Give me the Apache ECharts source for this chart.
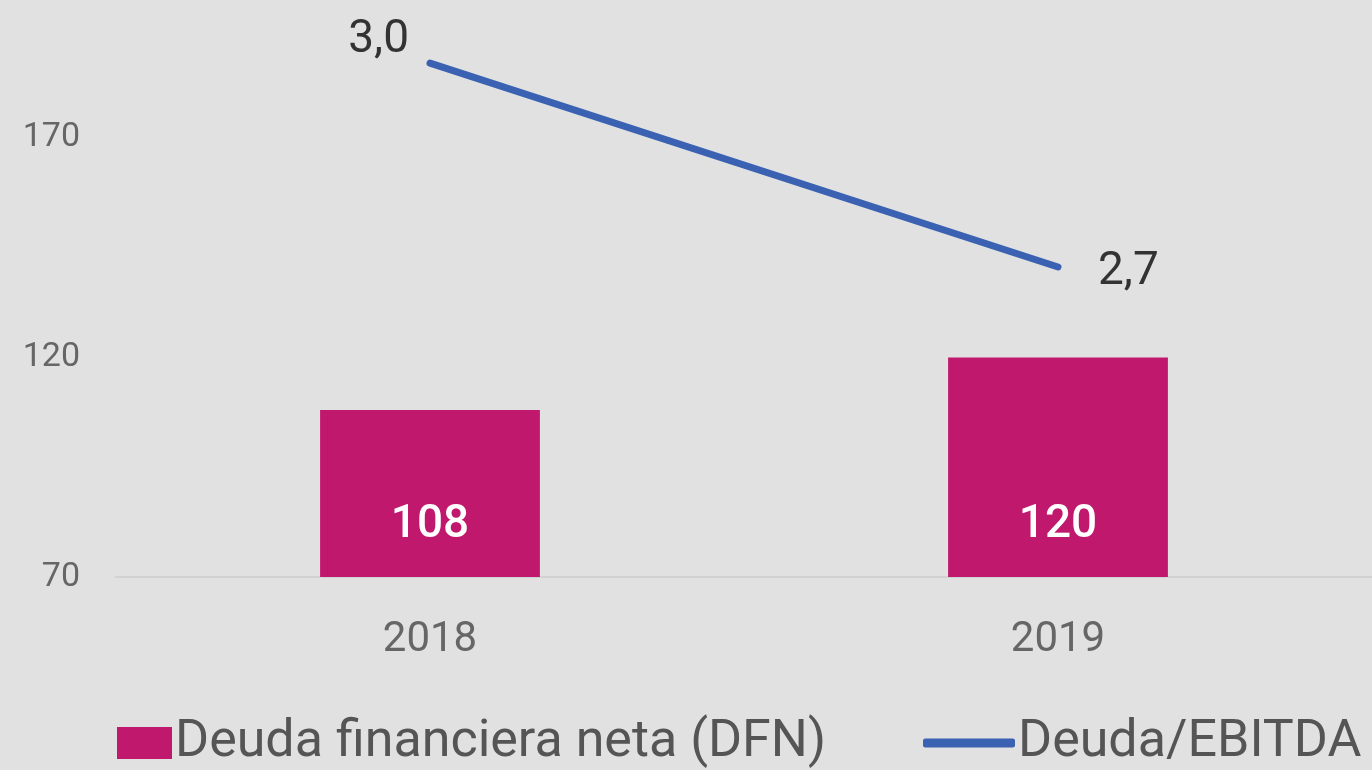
<!DOCTYPE html>
<html>
<head>
<meta charset="utf-8">
<script src="https://cdn.jsdelivr.net/npm/echarts@6/dist/echarts.min.js"></script>
<style>
	html, body { margin: 0; padding: 0; background: #e1e1e1; }
	#chart { width: 1372px; height: 770px; }
</style>
</head>
<body>
<div id="chart"></div>
<script>
	// datos
	var years = ['2018', '2019'];
	var dfn = [108, 120];
	var deudaEbitda = [3.0, 2.7];
	var yTicks = [70, 120, 170];

	var fontName = 'Roboto, "DejaVu Sans", sans-serif';
	var myChart = echarts.init(document.getElementById('chart'));

	var option = {
		backgroundColor: '#e1e1e1',
		textStyle: { fontFamily: fontName },
		grid: { left: 116, right: 0, top: 6, bottom: 193 },
		legend: [
			{
				data: ['Deuda financiera neta (DFN)'],
				icon: 'rect',
				left: 112, top: 712,
				itemWidth: 55, itemHeight: 32, itemGap: 0,
				textStyle: { fontSize: 52, color: '#555555', fontFamily: fontName, padding: [0, 0, 0, -2] }
			},
			{
				data: ['Deuda/EBITDA'],
				icon: 'roundRect',
				left: 918, top: 712,
				itemWidth: 92, itemHeight: 9,
				textStyle: { fontSize: 52, color: '#555555', fontFamily: fontName, padding: [0, 0, 0, -2] }
			}
		],
		xAxis: {
			type: 'category',
			data: years,
			axisLine: { lineStyle: { color: '#d2d2d2', width: 2 } },
			axisTick: { show: false },
			axisLabel: { fontSize: 42, color: '#666666', margin: 42 }
		},
		yAxis: [
			{
				type: 'value',
				min: yTicks[0], max: 200, interval: 50,
				axisLine: { show: false },
				axisTick: { show: false },
				splitLine: { show: false },
				axisLabel: { fontSize: 34, color: '#666666', margin: 36, showMaxLabel: false }
			},
			{
				type: 'value',
				min: 2.244, max: 3.084,
				show: false,
				splitLine: { show: false }
			}
		],
		series: [
			{
				name: 'Deuda financiera neta (DFN)',
				type: 'bar',
				data: dfn,
				barWidth: '35%',
				itemStyle: { color: '#c0186c' },
				label: {
					show: true, position: 'insideBottom', distance: 29,
					color: '#ffffff', fontSize: 46, fontWeight: 500
				}
			},
			{
				name: 'Deuda/EBITDA',
				type: 'line',
				yAxisIndex: 1,
				data: [
					{ value: deudaEbitda[0], label: { position: 'left', distance: 20, offset: [0, -23] } },
					{ value: deudaEbitda[1], label: { position: 'right', distance: 39, offset: [0, 5] } }
				],
				symbol: 'circle',
				symbolSize: 2,
				lineStyle: { color: '#3a61b2', width: 7, cap: 'round' },
				itemStyle: { color: '#3a61b2' },
				label: {
					show: true, fontSize: 46, color: '#333333',
					formatter: function (p) { return p.value.toFixed(1).replace('.', ','); }
				}
			}
		]
	};
	myChart.setOption(option);
</script>
</body>
</html>
